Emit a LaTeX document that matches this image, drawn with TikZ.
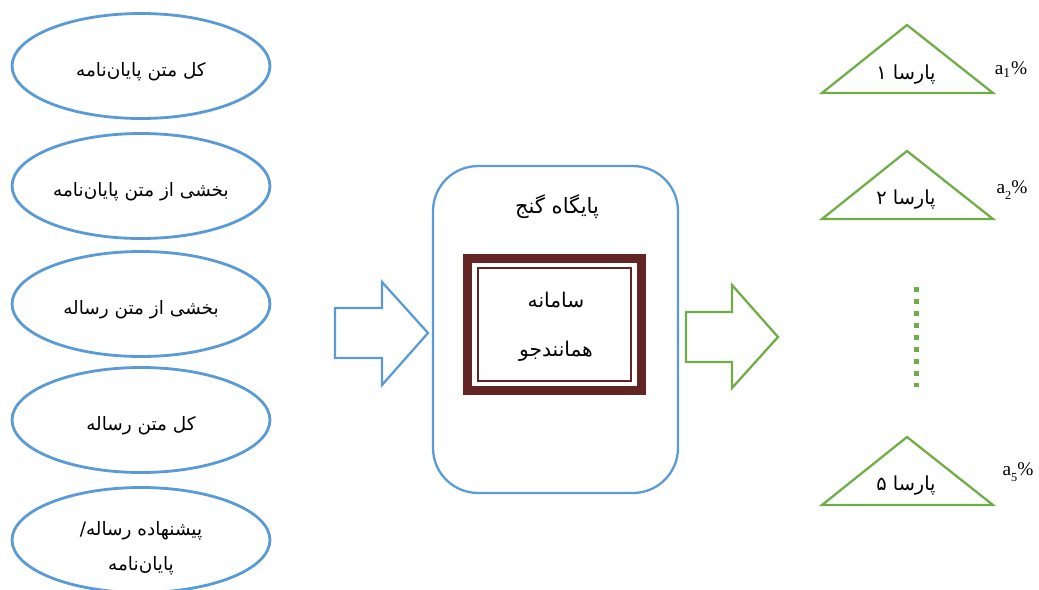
\documentclass[tikz,border=0pt]{standalone}
\usepackage{fontspec}
\setmainfont{Liberation Serif}
\newfontfamily\arabicfont[Script=Arabic]{DejaVu Sans}
\TeXXeTstate=1
\usetikzlibrary{shapes.geometric}
\definecolor{srcblue}{HTML}{5B9BD5}
\definecolor{resgreen}{HTML}{70AD47}
\definecolor{frbrown}{HTML}{632523}
\tikzset{
  source/.style={ellipse, draw=srcblue, line width=1.6pt, minimum width=5.16cm,
    minimum height=2.1cm, inner sep=0pt, text height=12pt, text depth=0pt,
    font=\arabicfont\fontsize{10.5}{20}\selectfont},
  fatext/.style={font=\arabicfont\fontsize{11.5}{14}\selectfont, inner sep=1pt},
  srctext/.style={font=\arabicfont\fontsize{10.5}{20}\selectfont, inner sep=1pt, align=center},
  pctext/.style={font=\fontsize{11}{13}\selectfont, inner sep=1pt},
  outtri/.style={draw=resgreen, line width=1.3pt, line join=miter},
  dotline/.style={draw=resgreen, line width=0.1cm, dash pattern=on 0.1cm off 0.14cm}
}
\begin{document}
\begin{tikzpicture}[x=0.02cm, y=-0.02cm]
		\useasboundingbox (0,0) rectangle (1039,589);
		% inputs
		\node[source] (whole) at (141,66) {\beginR کل متن پایان‌نامه\endR};
		\node[source] (part) at (141,186) {\beginR بخشی از متن پایان‌نامه\endR};
		\node[source] (partdiss) at (141,304) {\beginR بخشی از متن رساله\endR};
		\node[source] (wholediss) at (141,420) {\beginR کل متن رساله\endR};
		\node[source] (proposal) at (141,540) {};
		\node[srctext] (proptext) at (141,548) {\beginR پیشنهاده رساله/\endR\\\beginR پایان‌نامه\endR};
		% block arrows
		\draw[srcblue, line width=1.3pt] (335,308) -- (382,308) -- (382,282) -- (428,333)
		-- (382,385) -- (382,358) -- (335,358) -- cycle;
		\draw[resgreen, line width=1.3pt] (686,312) -- (732,312) -- (732,285) -- (778,337)
		-- (732,388) -- (732,362) -- (686,362) -- cycle;
		% ganj
		\node[draw=srcblue, line width=1.3pt, rounded corners=0.9cm, minimum width=4.9cm,
		minimum height=6.54cm] (ganj) at (555.5,329.5) {};
		\node[fatext, font=\arabicfont\fontsize{12}{14}\selectfont] (ganjtitle) at (557,207) {\beginR پایگاه گنج\endR};
		\node[fill=frbrown, minimum width=3.66cm, minimum height=2.82cm, inner sep=0pt] (frame) at (554.5,324.5) {};
		\node[fill=white, minimum width=3.3cm, minimum height=2.46cm, inner sep=0pt] (frameinner) at (554.5,324.5) {};
		\node[draw=frbrown, line width=0.9pt, minimum width=3.06cm, minimum height=2.26cm, inner sep=0pt] (frameline) at (554.5,324.5) {};
		\node[fatext] (sys1) at (556,300) {\beginR سامانه\endR};
		\node[fatext] (sys2) at (556,351) {\beginR همانندجو\endR};
		% results
		\draw[outtri] (822,93) -- (907,25) -- (993,93) -- cycle;
		\node[fatext, font=\arabicfont\fontsize{11}{14}\selectfont] (res1) at (906,75) {\beginR پارسا ۱\endR};
		\node[pctext] (pct1) at (1011,70) {a\textsubscript{1}\%};
		\draw[outtri] (822,219) -- (907,151) -- (993,219) -- cycle;
		\node[fatext, font=\arabicfont\fontsize{11}{14}\selectfont] (res2) at (906,200) {\beginR پارسا ۲\endR};
		\node[pctext] (pct2) at (1012,190) {a\raisebox{-0.7ex}{\scriptsize 2}\%};
		\draw[dotline] (916,287) -- (916,387);
		\draw[outtri] (822,505) -- (907,437) -- (993,505) -- cycle;
		\node[fatext, font=\arabicfont\fontsize{11}{14}\selectfont] (res5) at (906,486) {\beginR پارسا ۵\endR};
		\node[pctext] (pct5) at (1018,472) {a\raisebox{-0.7ex}{\scriptsize 5}\%};
\end{tikzpicture}
\end{document}
